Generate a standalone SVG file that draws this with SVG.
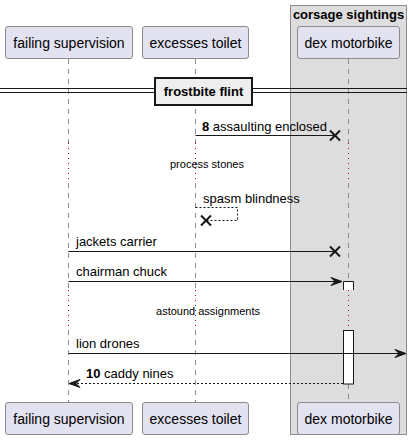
<svg xmlns="http://www.w3.org/2000/svg" width="413" height="442" viewBox="0 0 413 442">
<defs>
<style>
text{font-family:"Liberation Sans",Arial,sans-serif;fill:#000}
.part rect{fill:#E2E2F0;stroke:#8C8C8C;stroke-width:1}
.part text{font-size:14px;text-anchor:middle}
.life{stroke:#8C8C8C;stroke-width:1;stroke-dasharray:5,5;fill:none}
.delay{stroke:#A80036;stroke-width:1;stroke-dasharray:1,4;fill:none}
.msg{stroke:#181818;stroke-width:1;fill:none}
.dash{stroke-dasharray:2,2}
.x{stroke:#181818;stroke-width:2}
.lbl{font-size:13px}
.note{font-size:11px;text-anchor:middle}
.head{fill:#181818;stroke:#181818}
</style>
</defs>
<rect width="413" height="442" fill="#fff"/>
<g id="box-corsage">
<rect x="290.5" y="5.5" width="116" height="429" fill="#DDDDDD" stroke="#8C8C8C"/>
<text x="348.5" y="19" font-size="13" font-weight="bold" text-anchor="middle">corsage sightings</text>
</g>
<g id="lifelines">
<line class="life" x1="68.5" y1="59" x2="68.5" y2="143"/>
<line class="life" x1="68.5" y1="183" x2="68.5" y2="290"/>
<line class="life" x1="68.5" y1="330" x2="68.5" y2="402"/>
<line class="life" x1="195.5" y1="59" x2="195.5" y2="143"/>
<line class="life" x1="195.5" y1="183" x2="195.5" y2="290"/>
<line class="life" x1="195.5" y1="330" x2="195.5" y2="402"/>
<line class="life" x1="348.5" y1="59" x2="348.5" y2="143"/>
<line class="life" x1="348.5" y1="183" x2="348.5" y2="281"/>
<line class="life" x1="348.5" y1="384" x2="348.5" y2="402"/>
<line class="delay" x1="68.5" y1="143" x2="68.5" y2="183"/>
<line class="delay" x1="195.5" y1="143" x2="195.5" y2="183"/>
<line class="delay" x1="348.5" y1="143" x2="348.5" y2="183"/>
<line class="delay" x1="68.5" y1="290" x2="68.5" y2="330"/>
<line class="delay" x1="195.5" y1="290" x2="195.5" y2="330"/>
<line class="delay" x1="348.5" y1="290" x2="348.5" y2="330"/>
</g>
<g id="activation">
<path d="M343.5,290 V281.5 H353.5 V290" fill="#fff" stroke="#181818"/>
<rect x="343.5" y="330.5" width="10" height="53.5" fill="#fff" stroke="#181818"/>
</g>
<g id="divider">
<line x1="0" y1="88.5" x2="407" y2="88.5" stroke="#181818"/>
<line x1="0" y1="92.5" x2="407" y2="92.5" stroke="#181818"/>
<rect x="155" y="78" width="97" height="27" fill="#EEEEEE" stroke="#181818" stroke-width="2"/>
<text x="203.5" y="96" font-size="13" font-weight="bold" text-anchor="middle">frostbite flint</text>
</g>
<g id="p-failing-top" class="part"><rect x="5.5" y="26.5" width="127" height="32" rx="2.5"/><text x="69" y="47.5">failing supervision</text></g>
<g id="p-excesses-top" class="part"><rect x="142.5" y="26.5" width="106" height="32" rx="2.5"/><text x="195.5" y="47.5">excesses toilet</text></g>
<g id="p-dex-top" class="part"><rect x="297.5" y="26.5" width="102" height="32" rx="2.5"/><text x="348.5" y="47.5">dex motorbike</text></g>
<g id="p-failing-bottom" class="part"><rect x="5.5" y="402.5" width="127" height="32" rx="2.5"/><text x="69" y="423.5">failing supervision</text></g>
<g id="p-excesses-bottom" class="part"><rect x="142.5" y="402.5" width="106" height="32" rx="2.5"/><text x="195.5" y="423.5">excesses toilet</text></g>
<g id="p-dex-bottom" class="part"><rect x="297.5" y="402.5" width="102" height="32" rx="2.5"/><text x="348.5" y="423.5">dex motorbike</text></g>
<g id="connectors">
<line class="msg" x1="195.5" y1="135.5" x2="335" y2="135.5"/>
<path class="x" d="M330,130.5 L340,140.5 M340,130.5 L330,140.5"/>
<text class="lbl" x="202" y="131"><tspan font-weight="bold">8</tspan> assaulting enclosed</text>
<text class="note" x="207" y="168">process stones</text>
<path class="msg dash" d="M195.5,207.5 H237.5 V220.5 H206"/>
<path class="x" d="M201,215.5 L211,225.5 M211,215.5 L201,225.5"/>
<text class="lbl" x="203" y="203">spasm blindness</text>
<line class="msg" x1="68.5" y1="251.5" x2="335" y2="251.5"/>
<path class="x" d="M330,246.5 L340,256.5 M340,246.5 L330,256.5"/>
<text class="lbl" x="76" y="246">jackets carrier</text>
<line class="msg" x1="68.5" y1="281.5" x2="340" y2="281.5"/>
<polygon class="head" points="331,277.5 342,281.5 331,285.5 335,281.5"/>
<text class="lbl" x="76" y="276">chairman chuck</text>
<text class="note" x="208" y="315">astound assignments</text>
<line class="msg" x1="68.5" y1="353.5" x2="403" y2="353.5"/>
<polygon class="head" points="395,349.5 406,353.5 395,357.5 399,353.5"/>
<text class="lbl" x="76" y="348">lion drones</text>
<line class="msg dash" x1="343" y1="383.5" x2="71" y2="383.5"/>
<polygon class="head" points="80,379.5 69,383.5 80,387.5 76,383.5"/>
<text class="lbl" x="86" y="378"><tspan font-weight="bold">10</tspan> caddy nines</text>
</g>
</svg>
